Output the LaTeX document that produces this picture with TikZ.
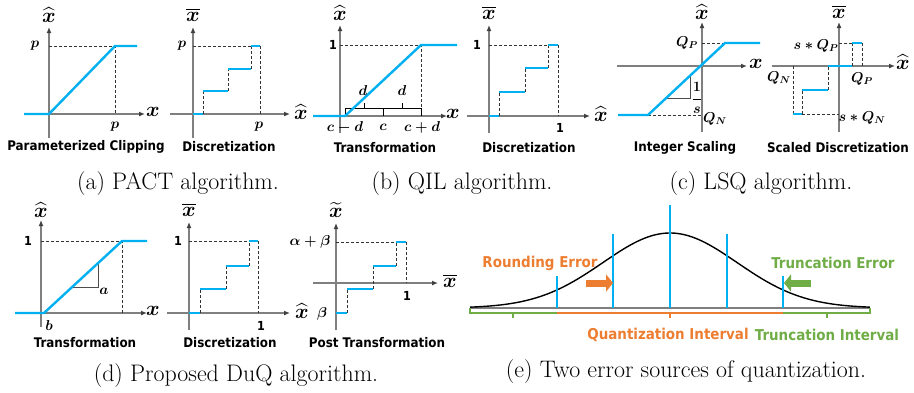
\documentclass[tikz,border=0pt]{standalone}
\usepackage{amsmath}
\usepackage{fontspec}
\newfontfamily\lblf{DejaVu Sans Condensed}
\usetikzlibrary{arrows.meta}
\definecolor{qblue}{HTML}{00B0F0}
\definecolor{qgray}{HTML}{7F7F7F}
\definecolor{qorange}{HTML}{ED7D31}
\definecolor{qgreen}{HTML}{70AD47}
\tikzset{
  axis/.style={qgray, line width=1.3bp, -{Latex[length=6bp,width=5bp,color=black!75]}},
  fn/.style={qblue, line width=2.4bp},
  guide/.style={black!80, line width=0.9bp, dash pattern=on 3bp off 2bp},
  tri/.style={black!70, line width=1bp},
  capt/.style={font=\lblf\bfseries\fontsize{13.3}{15}\selectfont, inner sep=0},
  one/.style={font=\lblf\bfseries\fontsize{12.5}{14}\selectfont, inner sep=0},
  ml/.style={font=\boldmath\fontsize{14}{16}\selectfont, inner sep=0},
  bigl/.style={font=\boldmath\fontsize{20}{22}\selectfont, inner sep=0},
  sub/.style={font=\fontsize{24}{27}\selectfont, inner sep=0},
  etxt/.style={font=\lblf\bfseries\fontsize{15}{17}\selectfont, inner sep=0},
  fat/.style={line width=7bp, -{Triangle[length=7bp,width=17bp]}},
}
\begin{document}
\begin{tikzpicture}[x=1bp,y=-1bp]
\useasboundingbox (0,0) rectangle (914,392);
% ---------------- (a) PACT ----------------
\draw[axis] (24,114) -- (145,114);
\draw[axis] (49,138) -- (49,27);
\draw[guide] (49,46) -- (115,46) -- (115,114);
\draw[fn] (24,114) -- (49,114) -- (115,46) -- (137,46);
\node[bigl] (a1y) at (49,15) {$\widehat{x}$};
\node[bigl] (a1x) at (153,112) {$x$};
\node[ml] (a1p) at (35,46) {$p$};
\node[ml] (a1q) at (115,127) {$p$};
\node[capt] (a1c) at (86,147) {Parameterized Clipping};

\draw[axis] (170,114) -- (290,114);
\draw[axis] (193,138) -- (193,27);
\draw[guide] (193,46) -- (251,46);
\draw[guide] (203,114) -- (203,91) (228,91) -- (228,69) (251,69) -- (251,46) (260,46) -- (260,114);
\draw[fn] (193,114) -- (203,114) (203,91) -- (228,91) (228,69) -- (251,69) (251,46) -- (260,46);
\node[bigl] (a2y) at (193,15) {$\overline{x}$};
\node[bigl] (a2x) at (301,112) {$\widehat{x}$};
\node[ml] (a2p) at (182,46) {$p$};
\node[ml] (a2q) at (259,127) {$p$};
\node[capt] (a2c) at (229,147) {Discretization};
\node[sub] (capa) at (178,184) {(a) PACT algorithm.};

% ---------------- (b) QIL ----------------
\draw[axis] (313,116) -- (447,116);
\draw[axis] (340,133) -- (340,25);
\draw[guide] (340,45) -- (421,45) -- (421,116);
\draw[black, line width=0.9bp] (345,116) -- (345,108) -- (421,108) -- (421,116)
  (383,108) -- (383,116) (364,108) -- (364,103) (402,108) -- (402,103);
\draw[fn] (313,116) -- (345,116) -- (421,45) -- (457,45);
\node[bigl] (b1y) at (340,13) {$\widehat{x}$};
\node[bigl] (b1x) at (453,114) {$x$};
\node[one] (b1o) at (333,45) {1};
\node[ml] (b1d1) at (363,91) {$d$};
\node[ml] (b1d2) at (402,91) {$d$};
\node[ml] (b1l) at (345,127) {$c-d$};
\node[ml] (b1m) at (383,127) {$c$};
\node[ml] (b1r) at (422,127) {$c+d$};
\node[capt] (b1c) at (385,148) {Transformation};

\draw[axis] (467,116) -- (590,116);
\draw[axis] (489,133) -- (489,25);
\draw[guide] (489,45) -- (548,45);
\draw[guide] (499,116) -- (499,92) (525,92) -- (525,68) (548,68) -- (548,45) (558,45) -- (558,116);
\draw[fn] (489,116) -- (499,116) (499,92) -- (525,92) (525,68) -- (548,68) (548,45) -- (558,45);
\node[bigl] (b2y) at (489,13) {$\overline{x}$};
\node[bigl] (b2x) at (601,114) {$\widehat{x}$};
\node[one] (b2o) at (477,45) {1};
\node[one] (b2p) at (560,128) {1};
\node[capt] (b2c) at (529,148) {Discretization};
\node[sub] (capb) at (462,184) {(b) QIL algorithm.};

% ---------------- (c) LSQ ----------------
\draw[axis] (617,66) -- (747,66);
\draw[axis] (702,132) -- (702,22);
\draw[guide] (702,43) -- (725,43) (648,115) -- (702,115);
\draw[tri] (666,98) -- (690,98) -- (690,76);
\draw[fn] (618,115) -- (648,115) -- (725,43) -- (760,43);
\node[bigl] (c1y) at (702,12) {$\widehat{x}$};
\node[bigl] (c1x) at (756,64) {$x$};
\node[ml] (c1qp) at (687,43) {$Q_P$};
\node[ml] (c1qn) at (715,119) {$Q_N$};
\node[ml] (c1f) at (697,98) {$\dfrac{1}{s}$};
\node[capt] (c1c) at (685,148) {Integer Scaling};

\draw[axis] (772,66) -- (895,66);
\draw[axis] (839,132) -- (839,22);
\draw[guide] (839,43) -- (852,43) (802,114) -- (839,114);
\draw[guide] (793,66) -- (793,114) (802,114) -- (802,90) (828,90) -- (828,66) (852,66) -- (852,43) (862,43) -- (862,66);
\draw[fn] (793,114) -- (802,114) (802,90) -- (828,90) (828,66) -- (852,66) (852,43) -- (862,43);
\node[bigl] (c2y) at (839,12) {$\overline{x}$};
\node[bigl] (c2x) at (903,62) {$\widehat{x}$};
\node[ml] (c2sp) at (816,46) {$s*Q_P$};
\node[ml] (c2sn) at (862,118) {$s*Q_N$};
\node[ml] (c2qn) at (779,78) {$Q_N$};
\node[ml] (c2qp) at (862,79) {$Q_P$};
\node[capt] (c2c) at (838,148) {Scaled Discretization};
\node[sub] (capc) at (761,184) {(c) LSQ algorithm.};

% ---------------- (d) DuQ ----------------
\draw[axis] (15,313) -- (147,313);
\draw[axis] (41,327) -- (41,220);
\draw[guide] (41,241) -- (122,241) -- (122,313);
\draw[tri] (72,287) -- (98,287) -- (98,263);
\draw[fn] (15,313) -- (44,313) -- (122,241) -- (147,241);
\node[bigl] (d1y) at (41,210) {$\widehat{x}$};
\node[bigl] (d1x) at (153,311) {$x$};
\node[one] (d1o) at (28,241) {1};
\node[ml] (d1a) at (104,291) {$a$};
\node[ml] (d1b) at (49,326) {$b$};
\node[capt] (d1c) at (85,343) {Transformation};

\draw[axis] (167,313) -- (290,313);
\draw[axis] (189,330) -- (189,222);
\draw[guide] (189,241) -- (249,241);
\draw[guide] (200,313) -- (200,289) (226,289) -- (226,266) (249,266) -- (249,241) (258,241) -- (258,313);
\draw[fn] (189,313) -- (200,313) (200,289) -- (226,289) (226,266) -- (249,266) (249,241) -- (258,241);
\node[bigl] (d2y) at (189,210) {$\overline{x}$};
\node[bigl] (d2x) at (302,311) {$\widehat{x}$};
\node[one] (d2o) at (178,241) {1};
\node[one] (d2p) at (261,326) {1};
\node[capt] (d2c) at (230,343) {Discretization};

\draw[axis] (313,283) -- (438,283);
\draw[axis] (336,330) -- (336,223);
\draw[guide] (336,242) -- (396,242);
\draw[guide] (347,313) -- (347,289) (373,289) -- (373,266) (396,266) -- (396,242) (406,242) -- (406,283);
\draw[fn] (336,313) -- (347,313) (347,289) -- (373,289) (373,266) -- (396,266) (396,242) -- (406,242);
\node[bigl] (d3y) at (336,210) {$\widetilde{x}$};
\node[bigl] (d3x) at (450,281) {$\overline{x}$};
\node[ml] (d3ab) at (310,242) {$\alpha+\beta$};
\node[ml] (d3b) at (322,314) {$\beta$};
\node[one] (d3o) at (407,296) {1};
\node[capt] (d3c) at (377,343) {Post Transformation};
\node[sub] (capd) at (236,376) {(d) Proposed DuQ algorithm.};

% ---------------- (e) error sources ----------------
\draw[qgray, line width=1.2bp] (470,308) -- (870,308);
\draw[black, line width=1.4bp] plot[domain=-2.985:2.985, samples=120, smooth] ({670+67*\x}, {308-75*exp(-\x*\x/2)});
\draw[qblue, line width=2bp] (557,276) -- (557,308) (613,234) -- (613,308) (670,205) -- (670,308) (727,234) -- (727,308) (783,276) -- (783,308);
\draw[qgreen, line width=1.1bp] (470,308) -- (470,313) -- (557,313) (513,313) -- (513,318)
  (783,313) -- (870,313) -- (870,308) (827,313) -- (827,318);
\draw[qorange, line width=1.1bp] (557,313) -- (783,313) (670,313) -- (670,318);
\draw[qorange, fat] (586,283) -- (613,283);
\draw[qgreen, fat] (811,283) -- (784,283);
\node[etxt, text=qorange] (re) at (540,263) {Rounding Error};
\node[etxt, text=qgreen] (te) at (833,263) {Truncation Error};
\node[etxt, text=qorange] (qi) at (668,335) {Quantization Interval};
\node[etxt, text=qgreen] (ti) at (827,335) {Truncation Interval};
\node[sub] (cape) at (686,372) {(e) Two error sources of quantization.};
\end{tikzpicture}
\end{document}
